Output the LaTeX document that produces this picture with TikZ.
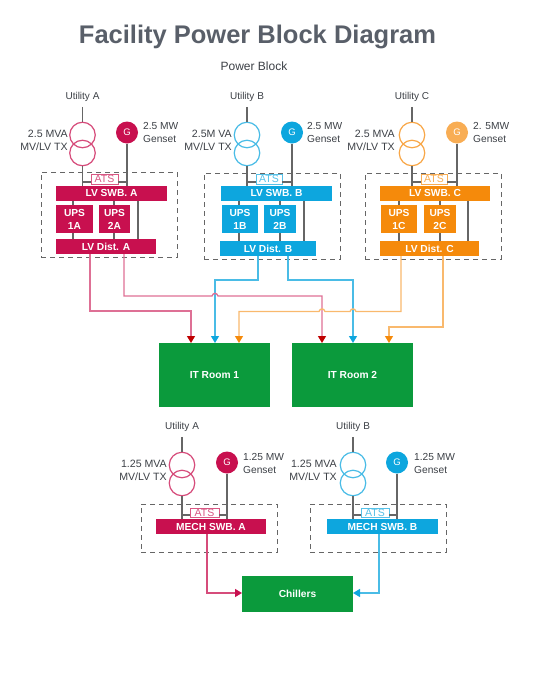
\documentclass[tikz,border=0pt]{standalone}
\usepackage{fontspec}
\setmainfont{Liberation Sans}
\usetikzlibrary{arrows.meta}
\definecolor{crim}{HTML}{C8104F}
\definecolor{sky}{HTML}{0DA6DE}
\definecolor{amber}{HTML}{F58A0B}
\definecolor{leaf}{HTML}{0B9A3C}
\definecolor{ink}{HTML}{3C4046}
\definecolor{wirecol}{HTML}{666666}
\definecolor{titlecol}{HTML}{595F69}
\tikzset{
  lbl/.style={font=\fontsize{10}{13}\selectfont,text=ink,inner sep=0pt},
  caplbl/.style={lbl,font=\fontsize{10.6}{13}\selectfont,anchor=east,align=right},
  genlbl/.style={lbl,font=\fontsize{10.2}{13}\selectfont,anchor=west,align=left},
  blockfill/.style={fill=#1,text=white,font=\bfseries\fontsize{10.2}{13}\selectfont,inner sep=0pt,outer sep=0pt,align=center},
  room/.style={blockfill=leaf},
  atsbox/.style={draw=#1!70,line width=.8pt,fill=white,text=#1!70,font=\fontsize{10.5}{10}\selectfont,inner sep=0pt,outer sep=0pt},
  dashbox/.style={draw=black!60,line width=.8pt,dash pattern=on 5pt off 4pt,inner sep=0pt,outer sep=0pt},
  wire/.style={draw=wirecol,line width=1.3pt},
  xfmr/.style={circle,draw=#1!75,line width=1.2pt,minimum size=25.5pt,inner sep=0pt,outer sep=0pt},
  genset/.style={circle,fill=#1,text=white,font=\fontsize{9.5}{9.5}\selectfont,minimum size=22pt,inner sep=0pt,outer sep=0pt},
  feedline/.style args={#1/#2}{draw=#1,line width=1.3pt,-{Triangle[length=7pt,width=8pt,fill=#2,color=#2]}},
}
\newcommand{\rectnode}[7]{\node[#6,minimum width={(#4-#2)*1pt},minimum height={(#5-#3)*1pt}] (#1) at ({(#2+#4)/2},{(#3+#5)/2}) {#7};}
\newcommand{\feed}[7]{% id, colour, gen colour, xT, xG, yU, utility text
  \node[lbl,inner sep=2pt] (util#1) at (#4,#6) {#7};
  \node[xfmr=#2] (txt#1) at (#4,#6+38) {};
  \node[xfmr=#2] (txb#1) at (#4,#6+56) {};
  \node[genset=#3] (g#1) at (#5,#6+35.5) {G};
  \draw[wire,shorten <=3pt] (util#1.south) -- (txt#1.north);
}
\newcommand{\tie}[2]{%
  \coordinate (bus#1) at (0,#2);
  \draw[wire] (txb#1.south) -- (swb#1.north -| txb#1);
  \draw[wire] (g#1.south) -- (swb#1.north -| g#1);
  \draw[wire] (bus#1 -| txb#1) -- (bus#1 -| ats#1.west);
  \draw[wire] (bus#1 -| ats#1.east) -- (bus#1 -| g#1);
}
\newcommand{\lvblock}[9]{% id, colour, x1 of UPS1, x2 UPS1, x1 UPS2, x2 UPS2, xa, xb, xc
  \coordinate (ta#1) at (#7,0);
  \coordinate (tb#1) at (#8,0);
  \coordinate (tc#1) at (#9,0);
  \draw[wire] (swb#1.south -| ta#1) -- (dist#1.north -| ta#1);
  \draw[wire] (swb#1.south -| tb#1) -- (dist#1.north -| tb#1);
  \draw[wire] (swb#1.south -| tc#1) -- (dist#1.north -| tc#1);
  \rectnode{ups1#1}{#3}{205}{#4}{233}{blockfill=#2}{UPS\\1#1}
  \rectnode{ups2#1}{#5}{205}{#6}{233}{blockfill=#2}{UPS\\2#1}
}
\begin{document}
\begin{tikzpicture}[x=1pt,y=-1pt]
\useasboundingbox (0,0) rectangle (540,691);
\node[text=titlecol,font=\bfseries\fontsize{25.5}{28}\selectfont,inner sep=0pt] (title) at (257.5,37) {Facility Power Block Diagram};
\node[lbl,font=\fontsize{12}{14}\selectfont] (sub) at (254,66) {Power Block};

% ---- LV blocks
\rectnode{frameA}{41}{172}{177}{257}{dashbox}{}
\rectnode{frameB}{204}{173}{340}{259}{dashbox}{}
\rectnode{frameC}{365}{173}{501}{259}{dashbox}{}

\feed{A}{crim}{crim}{82.5}{127}{97}{Utility A}
\feed{B}{sky}{sky}{247}{292}{97}{Utility B}
\feed{C}{amber}{amber!70}{412}{457}{97}{Utility C}

\rectnode{swbA}{56}{186}{167}{200.5}{blockfill=crim}{LV SWB. A}
\rectnode{swbB}{221}{186}{332}{200.5}{blockfill=sky}{LV SWB. B}
\rectnode{swbC}{380}{186}{490}{200.5}{blockfill=amber}{LV SWB. C}
\rectnode{distA}{56}{239}{156}{254}{blockfill=crim}{LV Dist. A}
\rectnode{distB}{220}{241}{316}{256}{blockfill=sky}{LV Dist. B}
\rectnode{distC}{380}{241}{479}{256}{blockfill=amber}{LV Dist. C}
\rectnode{atsA}{91}{174}{118}{184}{atsbox=crim}{ATS}
\rectnode{atsB}{256}{174}{282}{184}{atsbox=sky}{ATS}
\rectnode{atsC}{421}{174}{447}{184}{atsbox=amber}{ATS}
\tie{A}{182}
\tie{B}{182}
\tie{C}{182}
\lvblock{A}{crim}{56}{93}{99}{130}{73}{114}{138}
\lvblock{B}{sky}{222}{258}{264}{296}{239}{280}{304}
\lvblock{C}{amber}{381}{417}{424}{456}{399}{440}{468}

\node[caplbl] (capA) at (68,140.5) {2.5 MVA\\MV/LV TX};
\node[caplbl] (capB) at (232,140.5) {2.5M VA\\MV/LV TX};
\node[caplbl] (capC) at (395,140.5) {2.5 MVA\\MV/LV TX};
\node[genlbl] (genA) at (143,132) {2.5 MW\\Genset};
\node[genlbl] (genB) at (307,132) {2.5 MW\\Genset};
\node[genlbl] (genC) at (473,132) {2. 5MW\\Genset};

% ---- IT rooms
\rectnode{room1}{159}{343}{270}{407}{room}{IT Room 1}
\rectnode{room2}{292}{343}{413}{407}{room}{IT Room 2}

\coordinate (a1) at (90,311);
\coordinate (a1e) at (191,311);
\coordinate (a2) at (124,296);
\coordinate (a2e) at (322,296);
\coordinate (b1) at (258,280);
\coordinate (b1e) at (215,280);
\coordinate (b2) at (288,280);
\coordinate (b2e) at (353,280);
\coordinate (c1) at (401,311.5);
\coordinate (c1e) at (239,311.5);
\coordinate (c2) at (443,327);
\coordinate (c2e) at (389,327);

\draw[feedline={crim!60!white/red!75!black}] (distA.south -| a1) -- (a1) -- (a1e) -- (room1.north -| a1e);
\draw[feedline={sky!75!white/sky}] (distB.south -| b1) -- (b1) -- (b1e) -- (room1.north -| b1e);
\draw[feedline={sky!75!white/sky}] (distB.south -| b2) -- (b2) -- (b2e) -- (room2.north -| b2e);
\draw[feedline={crim!60!white/red!75!black}] (distA.south -| a2) -- (a2)
  -- (212,296) .. controls (213,292.5) and (217,292.5) .. (218,296) -- (a2e) -- (room2.north -| a2e);
\draw[feedline={amber!60!white/amber}] (distC.south -| c1) -- (c1)
  -- (356,311.5) .. controls (355,308) and (351,308) .. (350,311.5)
  -- (325,311.5) .. controls (324,308) and (320,308) .. (319,311.5)
  -- (c1e) -- (room1.north -| c1e);
\draw[feedline={amber!60!white/amber}] (distC.south -| c2) -- (c2) -- (c2e) -- (room2.north -| c2e);

% ---- Mechanical blocks
\rectnode{frameM}{141}{504}{277}{552}{dashbox}{}
\rectnode{frameN}{310}{504}{446}{552}{dashbox}{}
\feed{M}{crim}{crim}{182}{227}{427}{Utility A}
\feed{N}{sky}{sky}{353}{397}{427}{Utility B}
\rectnode{swbM}{156}{519}{266}{534}{blockfill=crim}{MECH SWB. A}
\rectnode{swbN}{327}{519}{438}{534}{blockfill=sky}{MECH SWB. B}
\rectnode{atsM}{190}{508}{219}{517}{atsbox=crim}{ATS}
\rectnode{atsN}{361}{508}{389}{517}{atsbox=sky}{ATS}
\tie{M}{515}
\tie{N}{515}
\node[caplbl] (capM) at (167,470.5) {1.25 MVA\\MV/LV TX};
\node[caplbl] (capN) at (337,470.5) {1.25 MVA\\MV/LV TX};
\node[genlbl] (genM) at (243,463) {1.25 MW\\Genset};
\node[genlbl] (genN) at (414,463) {1.25 MW\\Genset};

\rectnode{chill}{242}{576}{353}{612}{room}{Chillers}
\coordinate (m1) at (207,593);
\coordinate (n1) at (379,593);
\draw[feedline={crim!75!white/crim}] (swbM.south -| m1) -- (m1) -- (chill.west |- m1);
\draw[feedline={sky!75!white/sky}] (swbN.south -| n1) -- (n1) -- (chill.east |- n1);
\end{tikzpicture}
\end{document}
